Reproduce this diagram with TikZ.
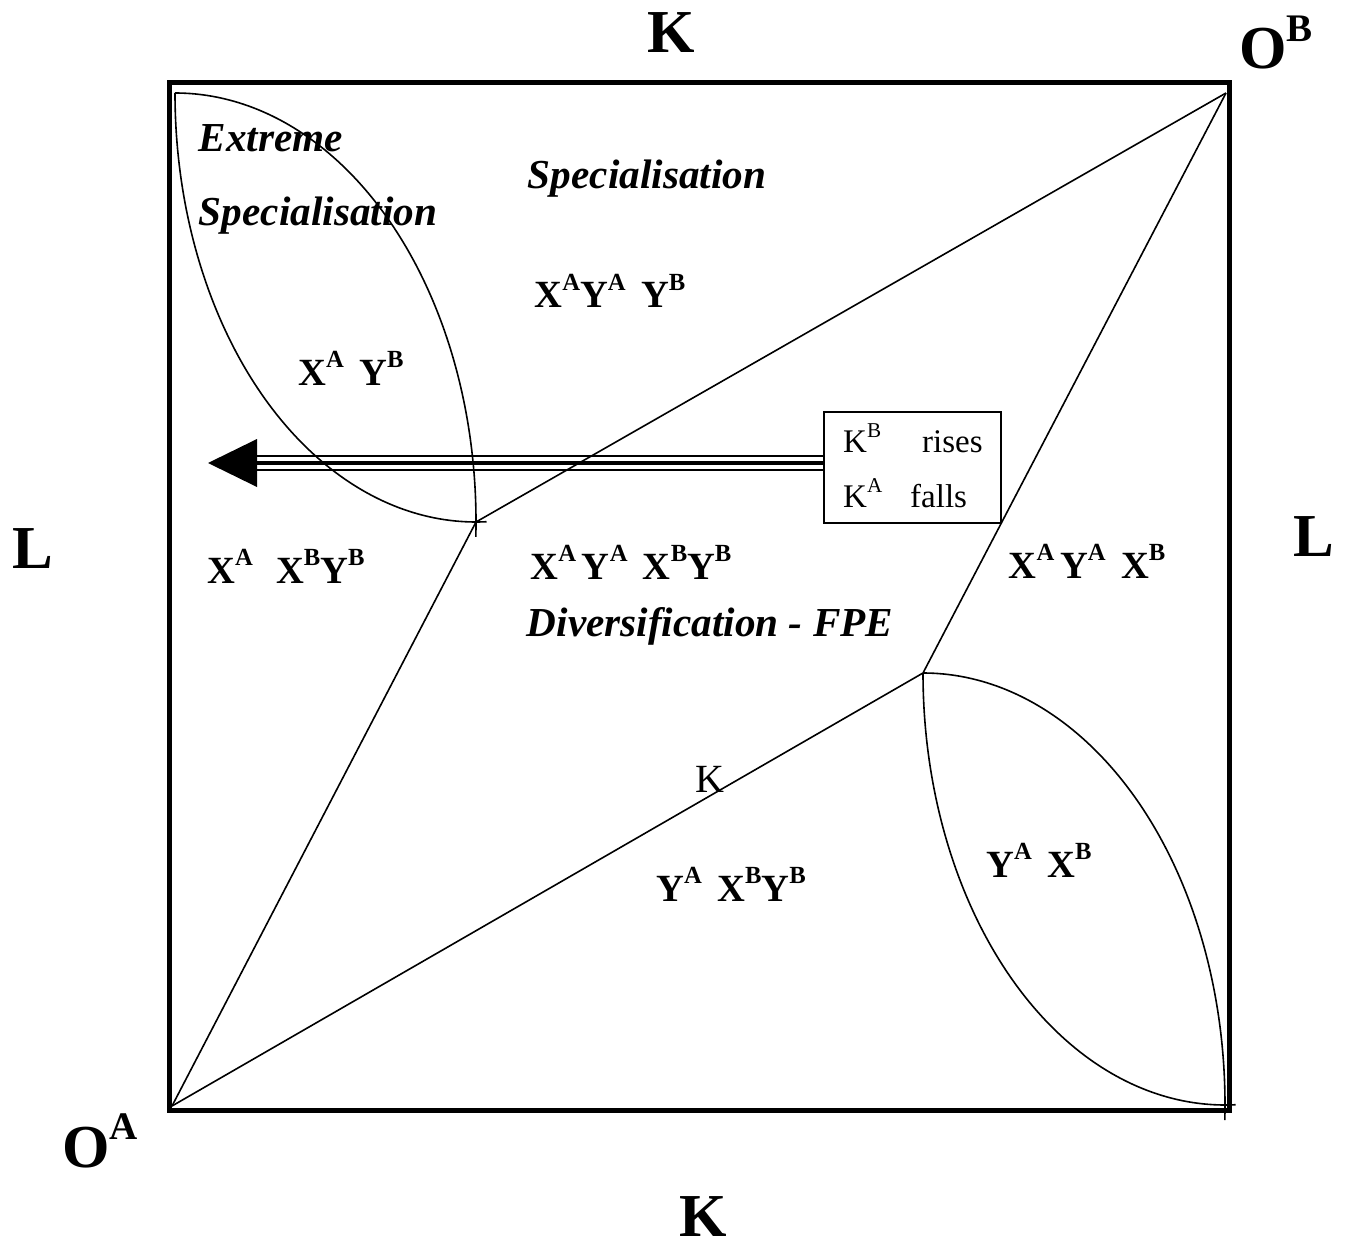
\documentclass[tikz,border=0pt]{standalone}
\usepackage{fontspec}
\usepackage{graphicx}
\setmainfont{Liberation Serif}
\newcommand\upx[1]{\raisebox{0.45em}{\scalebox{0.64}{#1}}}
\begin{document}
\begin{tikzpicture}[x=1pt,y=-1pt,
  curve/.style={line width=1.6pt},
  big/.style={font=\fontsize{61}{63}\selectfont\bfseries, anchor=base, inner sep=0pt},
  region/.style={font=\fontsize{38.5}{40}\selectfont\bfseries, anchor=base, inner sep=0pt},
  regime/.style={font=\fontsize{41.2}{43}\selectfont\bfseries\itshape, anchor=base, inner sep=0pt},
  plain/.style={font=\fontsize{33}{35}\selectfont, anchor=base west, inner sep=0pt}]
\useasboundingbox (0,0) rectangle (1347,1249);
% box
\node[draw, line width=1.6pt, minimum width=177pt, minimum height=111pt, anchor=north west, inner sep=0pt] (kbox) at (823,411) {};
\node[plain] (kb) at (843,452) {K\upx{B}};
\node[plain] (rises) at (922,452) {rises};
\node[plain] (ka) at (843,507) {K\upx{A}};
\node[plain] (falls) at (910,507) {falls};
% triple arrow (drawn first so that the curves cross over it)
\coordinate (tip) at (208,463);
\coordinate (hb) at (255,463);
\draw[line width=2.3pt] ([yshift=7pt]kbox.west |- tip) -- ([yshift=7pt]hb);
\draw[line width=4.6pt] (kbox.west |- tip) -- (hb);
\draw[line width=2.3pt] ([yshift=-7pt]kbox.west |- tip) -- ([yshift=-7pt]hb);
\fill (tip) -- ++(49,-24) -- ++(0,48) -- cycle;
% frame
\draw[line width=5pt] (169.5,83) rectangle (1229.5,1110);
% key points
\coordinate (OA) at (172,1106);
\coordinate (OB) at (1226,93);
\coordinate (P) at (476,522);
\coordinate (Q) at (923,673);
\coordinate (LT) at (175,93);
\coordinate (RB) at (1225,1105);
% cone lines
\draw[curve] (OA) -- (P) -- (OB);
\draw[curve] (OA) -- (Q) -- (OB);
% left lens
\draw[curve] (LT) arc[start angle=180, end angle=272, x radius=301pt, y radius=429pt];
\draw[curve] (LT) arc[start angle=90, end angle=-2, x radius=301pt, y radius=429pt];
% right lens
\draw[curve] (Q) arc[start angle=180, end angle=272, x radius=302pt, y radius=432pt];
\draw[curve] (Q) arc[start angle=90, end angle=-2, x radius=302pt, y radius=432pt];
% axis labels
\node[big] (ktop) at (671,53) {K};
\node[big] (kbot) at (703,1236) {K};
\node[big] (lleft) at (33,568) {L};
\node[big] (lright) at (1314,556) {L};
\node[big] (ob) at (1276,69) {O\upx{B}};
\node[big] (oa) at (100,1167) {O\upx{A}};
% regime labels
\node[regime] (ext) at (271,152) {Extreme};
\node[regime] (spl) at (318,226) {Specialisation};
\node[regime] (spt) at (647,189) {Specialisation};
\node[regime] (div) at (710,636) {Diversification - FPE};
% region labels
\node[region] (r1) at (351,385) {X\upx{A}\hspace{0.4em}Y\upx{B}};
\node[region] (r2) at (610,308) {X\upx{A}Y\upx{A}\hspace{0.4em}Y\upx{B}};
\node[region] (r3) at (286,583) {X\upx{A}\hspace{0.6em}X\upx{B}Y\upx{B}};
\node[region] (r4) at (631,579) {X\upx{A}\hspace{0.15em}Y\upx{A}\hspace{0.4em}X\upx{B}Y\upx{B}};
\node[region] (r5) at (1087,578) {X\upx{A}\hspace{0.15em}Y\upx{A}\hspace{0.4em}X\upx{B}};
\node[region] (r6) at (1039,877) {Y\upx{A}\hspace{0.4em}X\upx{B}};
\node[region] (r7) at (731,901) {Y\upx{A}\hspace{0.4em}X\upx{B}Y\upx{B}};
\node[font=\fontsize{40}{42}\selectfont, anchor=base, inner sep=0pt] (kline) at (710,792) {K};
\end{tikzpicture}
\end{document}
